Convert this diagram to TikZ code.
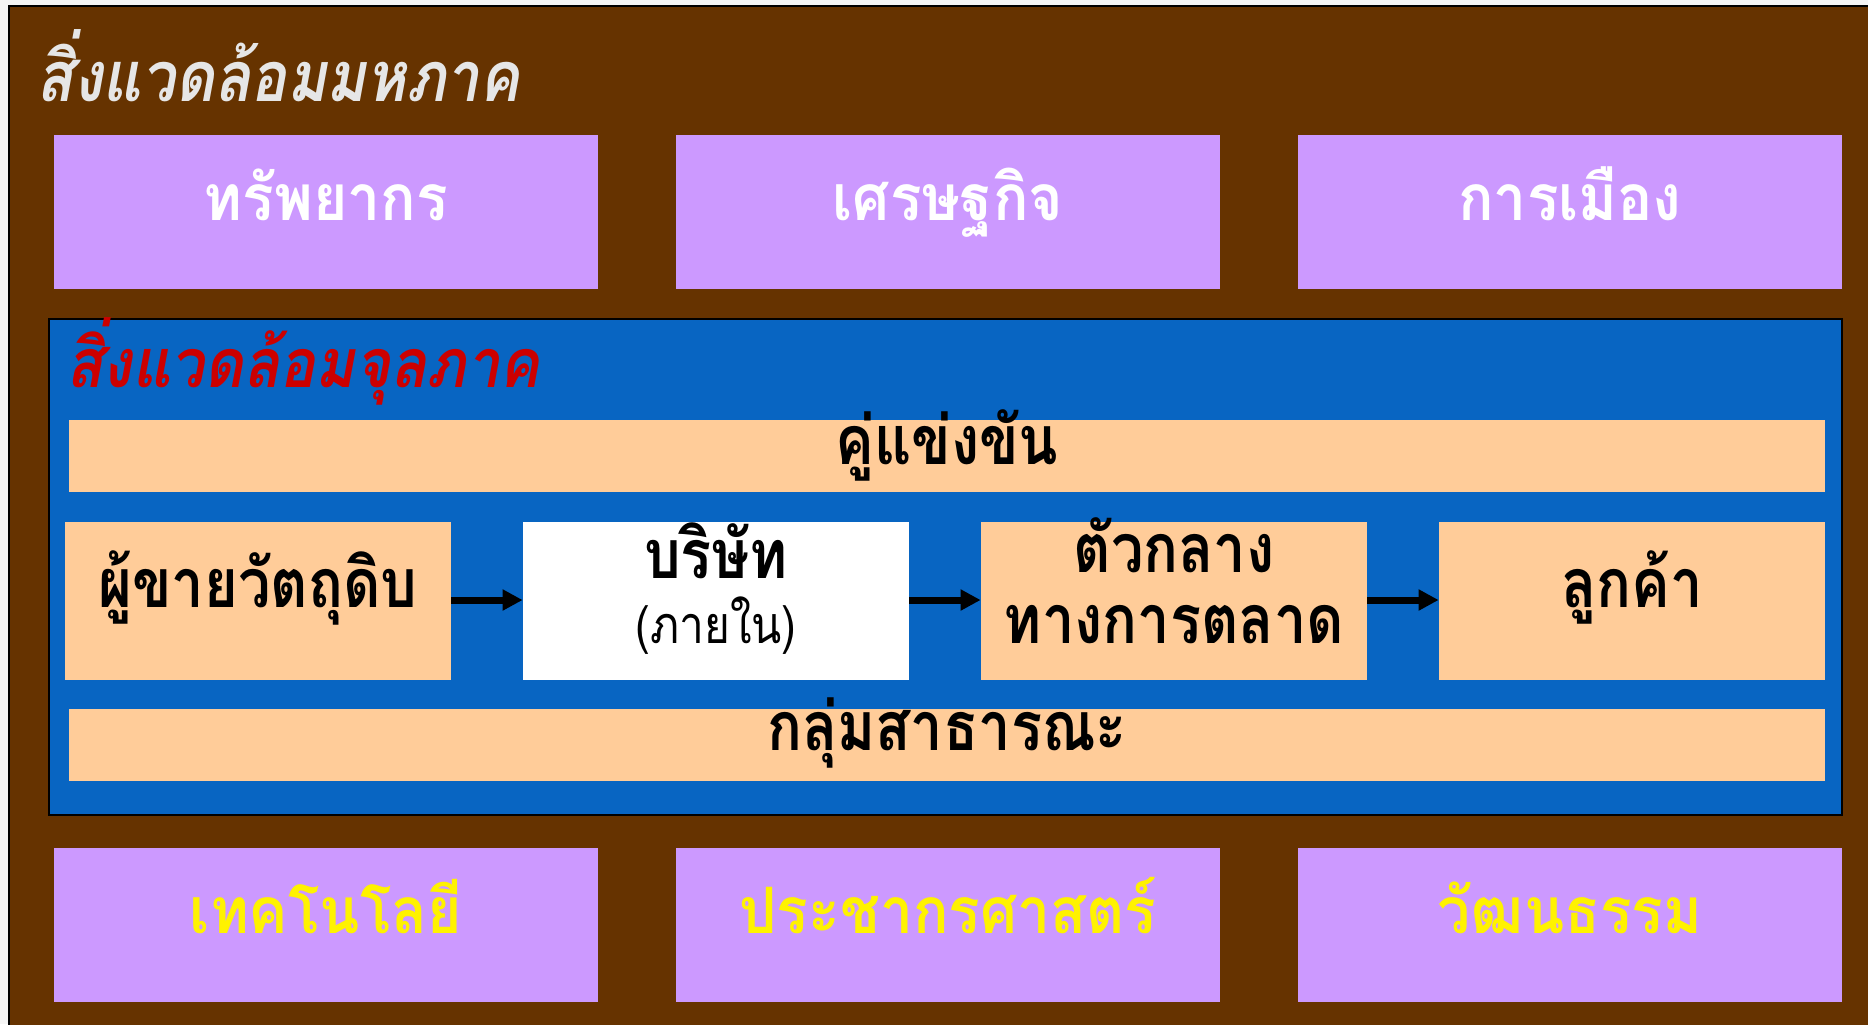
\documentclass[tikz,border=0pt]{standalone}
\usepackage{fontspec}
\usetikzlibrary{arrows.meta}
\newfontfamily\thai[Script=Thai]{Loma}
\newfontfamily\thaicond[Script=Thai,FakeStretch=0.85]{Loma}
\newfontfamily\thaimacro[Script=Thai,FakeStretch=0.92]{Loma}
\newfontfamily\thaititle[Script=Thai,FakeStretch=0.86]{Loma}
\newfontfamily\thaimicro[Script=Thai,FakeStretch=0.88]{Loma}
\definecolor{bgbrown}{RGB}{102,51,0}
\definecolor{lilac}{RGB}{204,153,255}
\definecolor{microblue}{RGB}{8,101,194}
\definecolor{peach}{RGB}{255,204,153}
\definecolor{titlegray}{RGB}{230,230,230}
\definecolor{microred}{RGB}{204,0,0}
\begin{document}
\begin{tikzpicture}[x=0.5pt,y=-0.5pt,
  macrobox/.style={fill=lilac,draw=none,minimum width=272pt,minimum height=77pt,inner sep=0pt},
  barbox/.style={fill=peach,draw=none,minimum width=878pt,minimum height=36pt,inner sep=0pt},
  rowbox/.style={fill=peach,draw=none,minimum width=193pt,minimum height=79pt,inner sep=0pt},
  macrotext/.style={anchor=base,font=\thaimacro\bfseries\fontsize{32}{36}\selectfont},
  innertext/.style={anchor=base,font=\thaicond\bfseries\fontsize{34}{38}\selectfont,text=black},
  flow/.style={line width=3.5pt,-{Triangle[length=10pt,width=10pt]}}
]
\useasboundingbox (0,0) rectangle (1868,1024);
\fill[black!4] (0,0) rectangle (1868,1024);
\draw[fill=bgbrown,draw=black,line width=1pt] (9,6) rectangle (1872,1030);
\node[anchor=base west,font=\thaititle\bfseries\itshape\fontsize{35}{39}\selectfont,text=titlegray,inner sep=0pt] (macrotitle) at (36,101) {สิ่งแวดล้อมมหภาค};
% macro boxes
\node[macrobox] (res) at (326,211.5) {};
\node[macrobox] (eco) at (948,211.5) {};
\node[macrobox] (pol) at (1570,211.5) {};
\node[macrobox] (tec) at (326,925) {};
\node[macrobox] (dem) at (948,925) {};
\node[macrobox] (cul) at (1570,925) {};
\node[macrotext,text=white] (rest) at (326,220) {ทรัพยากร};
\node[macrotext,text=white] (ecot) at (948,220) {เศรษฐกิจ};
\node[macrotext,text=white] (polt) at (1570,220) {การเมือง};
\node[macrotext,text=yellow] (tect) at (326,933) {เทคโนโลยี};
\node[macrotext,text=yellow] (demt) at (948,933) {ประชากรศาสตร์};
\node[macrotext,text=yellow] (cult) at (1570,933) {วัฒนธรรม};
% micro environment
\node[fill=microblue,draw=black,line width=1pt,minimum width=896.5pt,minimum height=248pt,inner sep=0pt] (micro) at (945.4,567) {};
\node[anchor=base west,font=\thaimicro\bfseries\itshape\fontsize{34}{38}\selectfont,text=microred,inner sep=0pt] (microtitle) at (66,387) {สิ่งแวดล้อมจุลภาค};
\node[barbox] (comp) at (947,456) {};
\node[barbox] (pub) at (947,744.5) {};
\node[innertext] (compt) at (947,464.6) {คู่แข่งขัน};
\node[innertext] (pubt) at (947,750) {กลุ่มสาธารณะ};
\node[rowbox] (sup) at (258,601) {};
\node[rowbox,fill=white] (firm) at (716,601) {};
\node[rowbox] (mid) at (1174,601) {};
\node[rowbox] (cus) at (1632,601) {};
\node[innertext] (supt) at (258,607.5) {ผู้ขายวัตถุดิบ};
\node[innertext] (firmt) at (716,578) {บริษัท};
\node[innertext,font=\thaicond\fontsize{26}{30}\selectfont] (firmt2) at (716,643) {(ภายใน)};
\node[innertext] (midt) at (1174,572) {ตัวกลาง};
\node[innertext] (midt2) at (1174,643) {ทางการตลาด};
\node[innertext] (cust) at (1632,607) {ลูกค้า};
\draw[flow] (sup.east |- 0,600) -- (firm.west |- 0,600);
\draw[flow] (firm.east |- 0,600) -- (mid.west |- 0,600);
\draw[flow] (mid.east |- 0,600) -- (cus.west |- 0,600);
\end{tikzpicture}
\end{document}
